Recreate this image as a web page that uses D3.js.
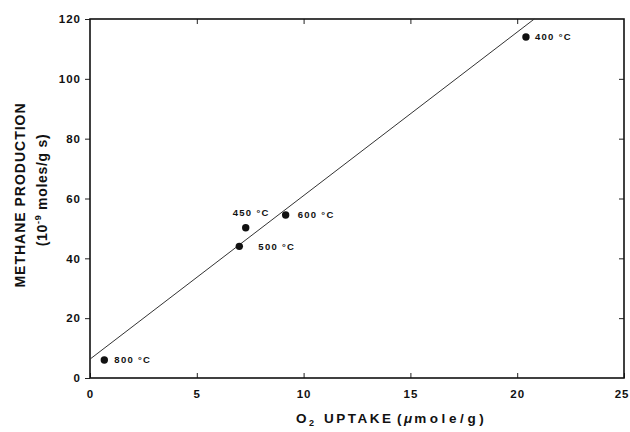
<!DOCTYPE html>
<html>
<head>
<meta charset="utf-8">
<script src="https://cdn.jsdelivr.net/npm/d3@7"></script>
<style>
  body { margin: 0; background: #fff; }
  text { font-family: 'Liberation Sans', Arial, sans-serif; font-weight: bold; fill: #111; }
</style>
</head>
<body>
<div id="chart"></div>
<script>
// Data
const o2Uptake = [0.67, 6.99, 7.29, 9.16, 20.41];
const methane = [6.0, 44.0, 50.2, 54.5, 114.0];
const temps = ['800 °C', '500 °C', '450 °C', '600 °C', '400 °C'];
const fitX = [0, 20.8];
const fitY = [6.3, 120];
const xTicks = [0, 5, 10, 15, 20, 25];
const yTicks = [0, 20, 40, 60, 80, 100, 120];

const width = 630;
const height = 432;
const margin = { left: 90, top: 19, right: 6, bottom: 54 };
const plotW = width - margin.left - margin.right;
const plotH = height - margin.top - margin.bottom;

const svg = d3
  .select('#chart')
  .append('svg')
  .attr('width', width)
  .attr('height', height);

const g = svg
  .append('g')
  .attr('transform', 'translate(' + margin.left + ',' + margin.top + ')');

const x = d3.scaleLinear().domain([0, 25]).range([0, plotW]);
const y = d3.scaleLinear().domain([0, 120]).range([plotH, 0]);

// Axes: left ticks outward, others inward
const styleAxis = (sel) => {
  sel.select('.domain').remove();
  sel.selectAll('line').attr('stroke', '#222').attr('stroke-width', 1);
  sel
    .selectAll('text')
    .style('font-size', '11.5px')
    .style('letter-spacing', '1px')
    .attr('fill', '#111');
};

g.append('g')
  .call(d3.axisLeft(y).tickValues(yTicks).tickSize(5).tickPadding(4))
  .call(styleAxis);

const xAxisG = g
  .append('g')
  .attr('transform', 'translate(0,' + plotH + ')')
  .call(d3.axisBottom(x).tickValues(xTicks).tickSize(-5).tickPadding(12))
  .call(styleAxis);

// last label sits at the page edge, nudge it inside
xAxisG
  .selectAll('.tick text')
  .filter((d) => d === 25)
  .attr('text-anchor', 'end')
  .attr('dx', 5);

g.append('g')
  .call(d3.axisTop(x).tickValues(xTicks.slice(1, -1)).tickSize(-5).tickFormat(''))
  .call(styleAxis);

g.append('g')
  .attr('transform', 'translate(' + plotW + ',0)')
  .call(d3.axisRight(y).tickValues(yTicks.slice(1, -1)).tickSize(-5).tickFormat(''))
  .call(styleAxis);

// Frame
g.append('rect')
  .attr('width', plotW)
  .attr('height', plotH)
  .attr('fill', 'none')
  .attr('stroke', '#111')
  .attr('stroke-width', 1.6);

// Fit line
g.append('line')
  .attr('x1', x(fitX[0]))
  .attr('y1', y(fitY[0]))
  .attr('x2', x(fitX[1]))
  .attr('y2', y(fitY[1]))
  .attr('stroke', '#333')
  .attr('stroke-width', 1);

// Points
const pts = o2Uptake.map((v, i) => ({ x: v, y: methane[i], label: temps[i] }));

g.selectAll('.dot')
  .data(pts)
  .enter()
  .append('circle')
  .attr('class', 'dot')
  .attr('cx', (d) => x(d.x))
  .attr('cy', (d) => y(d.y))
  .attr('r', 3.7)
  .attr('fill', '#111');

// Label offsets per point
const offsets = [[10, 0], [19, 0], [-13, -15], [12, 0], [9, 0]];

g.selectAll('.lbl')
  .data(pts)
  .enter()
  .append('text')
  .attr('class', 'lbl')
  .attr('x', (d, i) => x(d.x) + offsets[i][0])
  .attr('y', (d, i) => y(d.y) + offsets[i][1])
  .attr('dy', '0.35em')
  .style('font-size', '9.5px')
  .style('letter-spacing', '1.3px')
  .text((d) => d.label);

// X axis title
const xt = svg
  .append('text')
  .attr('y', 423)
  .style('font-size', '13.5px')
  .style('letter-spacing', '2.5px');
xt.append('tspan').attr('x', 296).text('O');
xt.append('tspan').attr('dy', 3).style('font-size', '9px').text('2');
xt.append('tspan').attr('x', 324).attr('dy', -3).text('UPTAKE');
xt.append('tspan').attr('x', 397).text('(');
xt.append('tspan').style('font-style', 'italic').style('letter-spacing', '2px').text('\u03bc');
xt.append('tspan').style('letter-spacing', '3.6px').text('mole/g)');

// Y axis title
svg
  .append('text')
  .attr('transform', 'translate(25,' + 195 + ') rotate(-90)')
  .attr('text-anchor', 'middle')
  .style('font-size', '14px')
  .style('letter-spacing', '1px')
  .text('METHANE PRODUCTION');

const yt2 = svg
  .append('text')
  .attr('transform', 'translate(47,' + 190 + ') rotate(-90)')
  .attr('text-anchor', 'middle')
  .style('font-size', '14px')
  .style('letter-spacing', '0.7px');
yt2.append('tspan').text('(10');
yt2.append('tspan').attr('dy', -6).style('font-size', '9px').text('-9');
yt2.append('tspan').attr('dy', 6).text(' moles/g s)');
</script>
</body>
</html>
